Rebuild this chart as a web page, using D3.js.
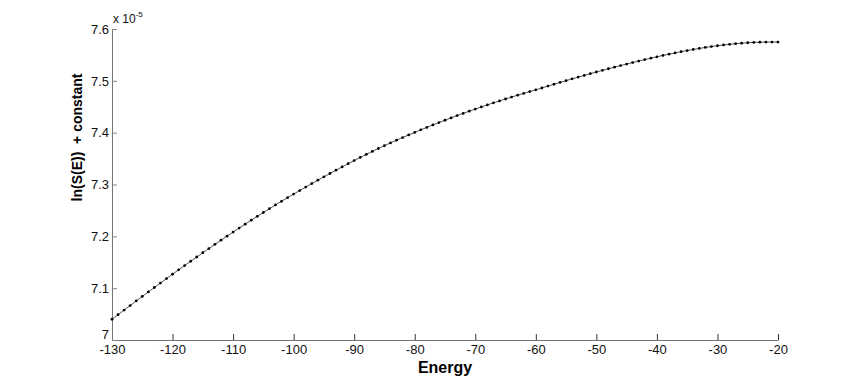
<!DOCTYPE html>
<html>
<head>
<meta charset="utf-8">
<script src="https://cdn.jsdelivr.net/npm/d3@7"></script>
<style>
  body { margin: 0; background: #fff; }
  text { font-family: "Liberation Sans", Arial, sans-serif; }
</style>
</head>
<body>
<div id="chart"></div>
<script>
// energy from -130 to -20, one point per unit
const energy = d3.range(-130, -19, 1)

// ln(S(E)) + constant, in units of 1e-5
const lnS = [
  7.0400, 7.0489, 7.0577, 7.0665, 7.0753, 7.0840, 7.0927, 7.1013, 7.1099, 7.1185,
  7.1270, 7.1353, 7.1436, 7.1519, 7.1601, 7.1683, 7.1764, 7.1845, 7.1925, 7.2004,
  7.2082, 7.2159, 7.2235, 7.2311, 7.2386, 7.2460, 7.2533, 7.2605, 7.2676, 7.2746,
  7.2815, 7.2883, 7.2950, 7.3017, 7.3083, 7.3148, 7.3212, 7.3276, 7.3339, 7.3401,
  7.3462, 7.3522, 7.3581, 7.3639, 7.3695, 7.3750, 7.3803, 7.3855, 7.3906, 7.3956,
  7.4005, 7.4054, 7.4102, 7.4149, 7.4195, 7.4240, 7.4285, 7.4329, 7.4372, 7.4414,
  7.4455, 7.4496, 7.4536, 7.4575, 7.4613, 7.4650, 7.4687, 7.4723, 7.4758, 7.4792,
  7.4826, 7.4862, 7.4898, 7.4934, 7.4969, 7.5004, 7.5038, 7.5072, 7.5105, 7.5138,
  7.5170, 7.5202, 7.5233, 7.5264, 7.5294, 7.5324, 7.5353, 7.5382, 7.5410, 7.5437,
  7.5464, 7.5490, 7.5515, 7.5539, 7.5562, 7.5584, 7.5605, 7.5625, 7.5644, 7.5661,
  7.5677, 7.5692, 7.5705, 7.5717, 7.5727, 7.5735, 7.5741, 7.5745, 7.5747, 7.5748,
  7.5748
]

const xTicks = [-130, -120, -110, -100, -90, -80, -70, -60, -50, -40, -30, -20]
const yTicks = [7, 7.1, 7.2, 7.3, 7.4, 7.5, 7.6]

const dimensions = ({
  width: 859,
  height: 382,
  margin: { top: 29, right: 81, bottom: 42, left: 112 }
})
const w = dimensions.width - dimensions.margin.left - dimensions.margin.right
const h = dimensions.height - dimensions.margin.top - dimensions.margin.bottom

const data = energy.map((e, i) => ({ e: e, v: lnS[i] }))

const x = d3.scaleLinear().domain([-130, -20]).range([0, w])
const y = d3.scaleLinear().domain([7, 7.6]).range([h, 0])

const svg = d3.select("#chart")
  .append("svg")
    .attr("width", dimensions.width)
    .attr("height", dimensions.height)
  .append("g")
    .attr("transform", "translate(" + dimensions.margin.left + "," + dimensions.margin.top + ")")

// x axis, ticks pointing inside
const xAxis = svg.append("g")
  .attr("transform", "translate(0," + h + ")")
  .call(d3.axisBottom(x).tickValues(xTicks).tickSize(-6).tickSizeOuter(0).tickPadding(5).tickFormat(d => String(d)))
xAxis.select(".domain").attr("stroke", "#777")
xAxis.selectAll(".tick line").attr("stroke", "#333")
xAxis.selectAll("text").attr("font-size", 13).attr("fill", "#111")

// y axis
const yAxis = svg.append("g")
  .call(d3.axisLeft(y).tickValues(yTicks).tickSize(-5).tickSizeOuter(0).tickPadding(3).tickFormat(d => d === 7 ? "7" : d3.format(".1f")(d)))
yAxis.select(".domain").attr("stroke", "#777")
yAxis.selectAll(".tick line").attr("stroke", "#888")
yAxis.selectAll("text").attr("font-size", 13).attr("fill", "#111")
// the bottom "7" sits a little higher so it clears "-130"
yAxis.selectAll(".tick").filter(d => d === 7).select("text").attr("dy", "-0.12em")

// exponent label
const expo = svg.append("text")
  .attr("x", 1)
  .attr("y", -6)
  .attr("font-size", 12)
  .attr("fill", "#111")
expo.append("tspan").text("x 10")
expo.append("tspan").attr("font-size", 8).attr("dy", -6).text("-5")

// curve
svg.append("path")
  .datum(data)
  .attr("fill", "none")
  .attr("stroke", "#555")
  .attr("stroke-width", 1)
  .attr("d", d3.line().x(d => x(d.e)).y(d => y(d.v)))

svg.append("g")
  .selectAll("circle")
  .data(data)
  .enter().append("circle")
    .attr("cx", d => x(d.e))
    .attr("cy", d => y(d.v))
    .attr("r", 1.4)
    .attr("fill", "#000")

// axis titles
svg.append("text")
  .attr("x", w / 2)
  .attr("y", h + 33)
  .attr("text-anchor", "middle")
  .attr("font-size", 16)
  .attr("font-weight", "bold")
  .text("Energy")

svg.append("text")
  .attr("transform", "translate(-30," + (h / 2 - 47) + ") rotate(-90)")
  .attr("text-anchor", "middle")
  .attr("font-size", 14)
  .attr("font-weight", "bold")
  .attr("xml:space", "preserve")
  .style("white-space", "pre")
  .text("ln(S(E))  + constant")
</script>
</body>
</html>
